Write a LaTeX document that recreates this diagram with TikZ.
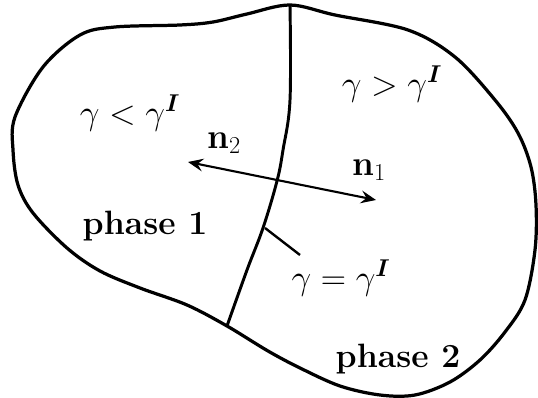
\documentclass[tikz,border=0pt]{standalone}
\usepackage{amsmath,amssymb}
\usetikzlibrary{arrows.meta}

\begin{document}
\begin{tikzpicture}[x=0.025cm, y=-0.025cm, >={Stealth[length=3.8mm, width=3.2mm, inset=1.4mm]},
	rel/.style={font=\fontsize{27}{31}\selectfont, inner sep=0pt},
	phs/.style={font=\fontsize{24}{28}\selectfont\bfseries, inner sep=0pt},
	outline/.style={line width=2.3pt, line join=round},
	iface/.style={line width=2.1pt}]
	\useasboundingbox (0,0) rectangle (538,398);
	% domain boundary
	\draw[outline] plot[smooth cycle, tension=0.55] coordinates {(290,5) (335,15) (408,30) (455,57) (495,100) (518,133) (531,167) (536,205) (535,250) (525,300) (505,332) (480,360) (450,382) (415,395) (380,395) (340,386) (300,368) (268,351) (227,326) (187,305) (140,288) (100,271) (67,248) (33,213) (18,185) (13,150) (15,117) (43,67) (80,35) (115,27) (180,25) (213,22) (247,14)};
	% interface
	\draw[iface] plot[smooth, tension=0.6] coordinates {(290,5) (290,100) (283,150) (277,181) (263,228) (247,270) (227,326)};
	\coordinate (tipB) at (188,162);
	\coordinate (tipA) at (376,200);
	\coordinate (onIf) at (265,228);
	\coordinate (lead) at (300,255);
	% labels
	\node[rel] (less) at (130,113) {$\gamma<\gamma^{\boldsymbol{I}}$};
	\node[rel] (more) at (392,84) {$\gamma>\gamma^{\boldsymbol{I}}$};
	\node[rel] (eq) at (341,278) {$\gamma=\gamma^{\boldsymbol{I}}$};
	\node[rel] (nB) at (224,143) {$\mathbf{n}_2$};
	\node[rel] (nA) at (369,170) {$\mathbf{n}_1$};
	\node[phs] (ph1) at (145,226) {phase 1};
	\node[phs] (ph2) at (398,359) {phase 2};
	\draw[<->, line width=1.5pt] (tipB) -- (tipA);
	\draw[line width=1.7pt] (onIf) -- (lead);
\end{tikzpicture}
\end{document}
